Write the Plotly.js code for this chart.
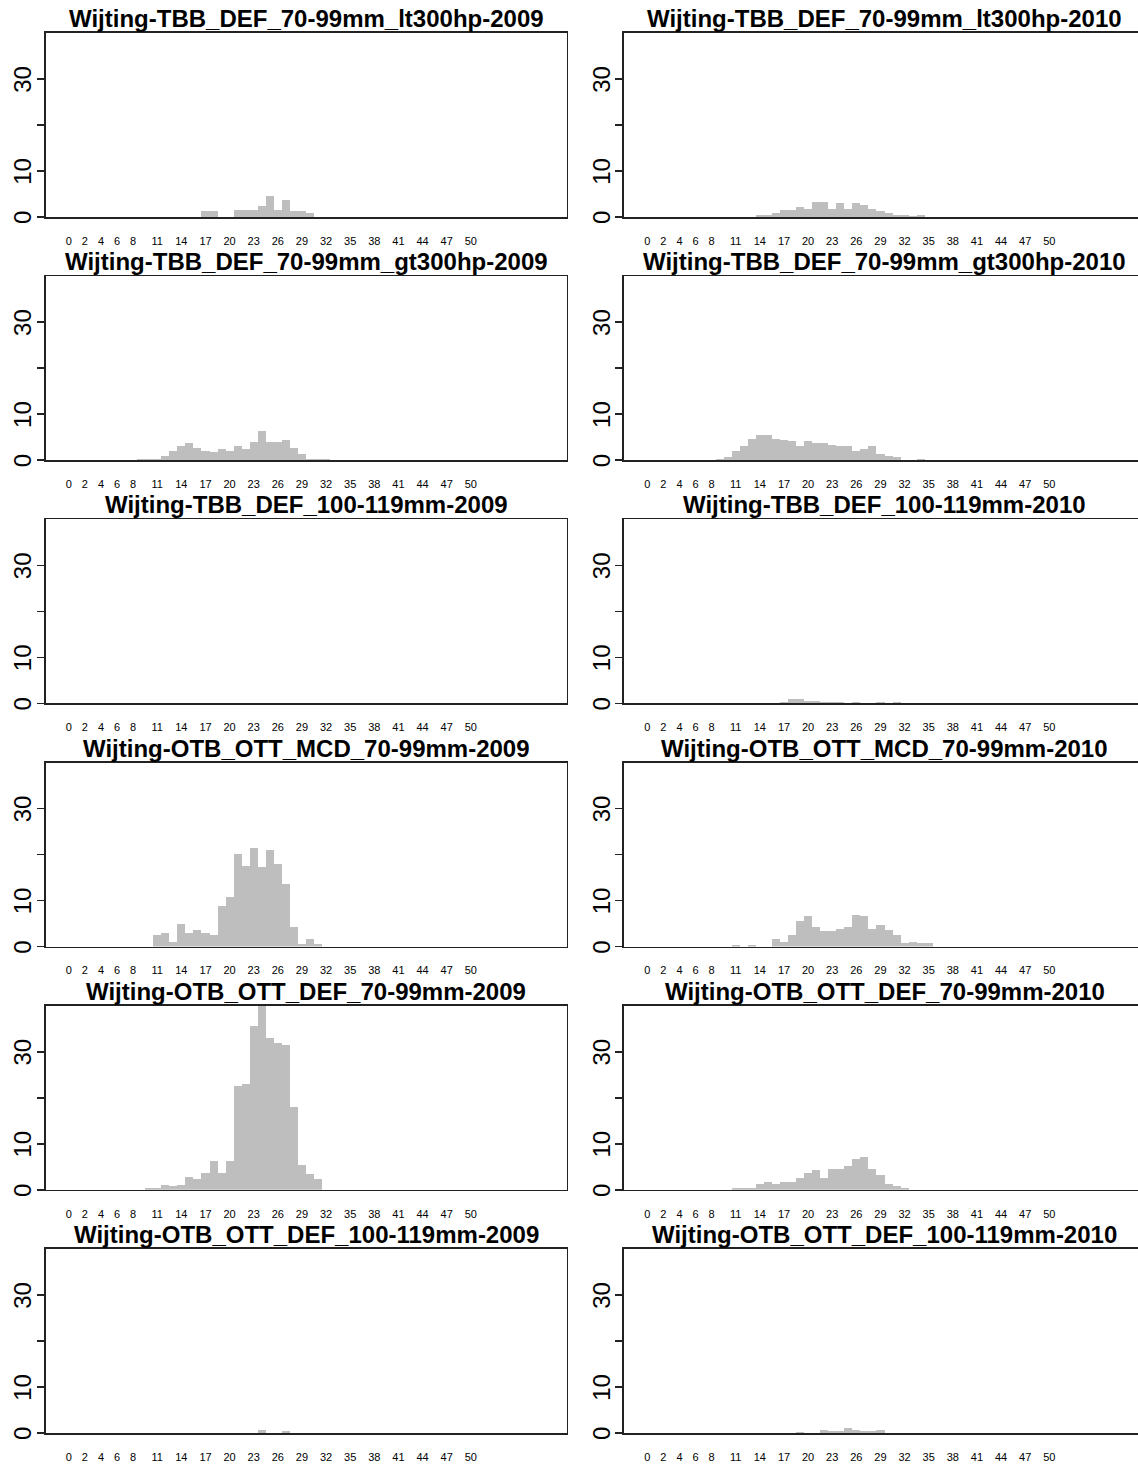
<!DOCTYPE html>
<html>
<head>
<meta charset="utf-8">
<script src="https://cdn.plot.ly/plotly-3.0.1.min.js"></script>
<style>
html, body { margin: 0; padding: 0; background: #fff; overflow: hidden; }
#chart { width: 1138px; height: 1465px; }
</style>
</head>
<body>
<div id="chart"></div>
<script>
// Length classes (cm) on the x axis
const lengthClasses = [0,1,2,3,4,5,6,7,8,9,10,11,12,13,14,15,16,17,18,19,
  20,21,22,23,24,25,26,27,28,29,30,31,32,33,34,35,36,37,38,39,
  40,41,42,43,44,45,46,47,48,49,50,51,52,53,54,55,56,57,58,59];

// Tick labels shown under each panel
const xTickVals = [0,2,4,6,8,11,14,17,20,23,26,29,32,35,38,41,44,47,50];
const xTickText = ["0","2","4","6","8","11","14","17","20","23","26","29","32","35","38","41","44","47","50"];
const yTickVals = [0,10,20,30];
const yTickText = ["0","10","","30"];

// Panel titles (row by row, left then right)
const panelTitles = [
  "Wijting-TBB_DEF_70-99mm_lt300hp-2009",
  "Wijting-TBB_DEF_70-99mm_lt300hp-2010",
  "Wijting-TBB_DEF_70-99mm_gt300hp-2009",
  "Wijting-TBB_DEF_70-99mm_gt300hp-2010",
  "Wijting-TBB_DEF_100-119mm-2009",
  "Wijting-TBB_DEF_100-119mm-2010",
  "Wijting-OTB_OTT_MCD_70-99mm-2009",
  "Wijting-OTB_OTT_MCD_70-99mm-2010",
  "Wijting-OTB_OTT_DEF_70-99mm-2009",
  "Wijting-OTB_OTT_DEF_70-99mm-2010",
  "Wijting-OTB_OTT_DEF_100-119mm-2009",
  "Wijting-OTB_OTT_DEF_100-119mm-2010"
];

// Numbers at length per panel (index = length class)
const tbbLt300_2009 = [0,0,0,0,0,0,0,0,0,0, 0,0,0,0,0,0,0,1.2,1.2,0, 0,1.5,1.5,1.5,2.5,4.5,1.5,3.6,1.2,1.2, 0.9,0,0,0,0,0,0,0,0,0, 0,0,0,0,0,0,0,0,0,0, 0,0,0,0,0,0,0,0,0,0];
const tbbLt300_2010 = [0,0,0,0,0,0,0,0,0,0, 0,0,0,0,0.35,0.35,0.95,1.6,1.6,2.2, 1.8,3.3,3.3,1.7,3.0,1.7,3.0,2.7,1.7,1.3, 0.8,0.45,0.45,0.2,0.35,0,0,0,0,0, 0,0,0,0,0,0,0,0,0,0, 0,0,0,0,0,0,0,0,0,0];
const tbbGt300_2009 = [0,0,0,0,0,0,0,0,0,0.35, 0.35,0.35,1.0,2.0,3.0,3.7,2.7,2.0,1.7,2.4, 2.0,3.0,2.4,4.0,6.3,4.0,4.0,4.3,2.7,1.4, 0.35,0.35,0.35,0,0,0,0,0,0,0, 0,0,0,0,0,0,0,0,0,0, 0,0,0,0,0,0,0,0,0,0];
const tbbGt300_2010 = [0,0,0,0,0,0,0,0,0,0.35, 0.65,2.0,3.0,4.6,5.4,5.4,4.7,4.4,4.1,3.0, 4.1,3.7,3.7,3.4,3.0,3.0,2.0,2.4,3.0,1.4, 1.0,0.65,0,0,0.35,0,0,0,0,0, 0,0,0,0,0,0,0,0,0,0, 0,0,0,0,0,0,0,0,0,0];
const tbb100_2009 = [0,0,0,0,0,0,0,0,0,0, 0,0,0,0,0,0,0,0,0,0, 0,0,0,0,0,0,0,0,0,0, 0,0,0,0,0,0,0,0,0,0, 0,0,0,0,0,0,0,0,0,0, 0,0,0,0,0,0,0,0,0,0];
const tbb100_2010 = [0,0,0,0,0,0,0,0,0,0, 0,0,0,0,0,0,0,0.2,0.9,0.9, 0.5,0.5,0.2,0.2,0.2,0,0.2,0,0,0.2, 0,0.2,0,0,0,0,0,0,0,0, 0,0,0,0,0,0,0,0,0,0, 0,0,0,0,0,0,0,0,0,0];
const ottMcd_2009 = [0,0,0,0,0,0,0,0,0,0, 0,2.6,2.9,0.9,4.9,2.9,3.6,2.9,2.6,8.8, 10.7,20.1,17.6,21.4,17.2,21.1,17.9,13.6,4.2,0.6, 1.6,0.6,0,0,0,0,0,0,0,0, 0,0,0,0,0,0,0,0,0,0, 0,0,0,0,0,0,0,0,0,0];
const ottMcd_2010 = [0,0,0,0,0,0,0,0,0,0, 0,0.3,0,0.3,0,0,1.6,1.1,2.6,5.6, 6.6,4.2,3.3,3.3,3.9,4.2,6.9,6.6,3.9,4.6, 3.6,2.6,0.7,1.0,0.7,0.7,0,0,0,0, 0,0,0,0,0,0,0,0,0,0, 0,0,0,0,0,0,0,0,0,0];
const ottDef_2009 = [0,0,0,0,0,0,0,0,0,0, 0.35,0.35,1.1,0.8,1.1,2.7,2.4,3.7,6.3,3.7, 6.3,22.5,22.9,35.6,41.0,33.0,32.0,31.4,18.0,5.4, 3.4,2.4,0,0,0,0,0,0,0,0, 0,0,0,0,0,0,0,0,0,0, 0,0,0,0,0,0,0,0,0,0];
const ottDef_2010 = [0,0,0,0,0,0,0,0,0,0, 0,0.3,0.3,0.3,1.3,1.6,1.3,1.6,1.6,2.6, 3.6,4.2,2.6,4.5,4.5,5.1,6.8,7.1,4.5,3.2, 1.3,0.9,0.3,0,0,0,0,0,0,0, 0,0,0,0,0,0,0,0,0,0, 0,0,0,0,0,0,0,0,0,0];
const ottDef100_2009 = [0,0,0,0,0,0,0,0,0,0, 0,0,0,0,0,0,0,0,0,0, 0,0,0,0,0.6,0,0,0.35,0,0, 0,0,0,0,0,0,0,0,0,0, 0,0,0,0,0,0,0,0,0,0, 0,0,0,0,0,0,0,0,0,0];
const ottDef100_2010 = [0,0,0,0,0,0,0,0,0,0, 0,0,0,0,0,0,0,0,0,0.3, 0,0,0.6,0.35,0.35,1.0,0.6,0.35,0.35,0.6, 0,0,0,0,0,0,0,0,0,0, 0,0,0,0,0,0,0,0,0,0, 0,0,0,0,0,0,0,0,0,0];

const panelSeries = [tbbLt300_2009, tbbLt300_2010, tbbGt300_2009, tbbGt300_2010,
  tbb100_2009, tbb100_2010, ottMcd_2009, ottMcd_2010,
  ottDef_2009, ottDef_2010, ottDef100_2009, ottDef100_2010];

// ---- geometry (pixels) ----
const W = 1138, H = 1465;
const colLeft = [45.5, 624];
const boxW = 521;
const xMin = -2.9, xMax = 61.9;           // R barplot extension of 4%
const pxPerUnit = boxW / (xMax - xMin);
const rowTop0 = 33, rowPitch = 243.2, boxH = 184;
const lineCol = "#222222";

const traces = [];
const layout = {
  width: W, height: H,
  margin: {l: 0, r: 0, t: 0, b: 0},
  paper_bgcolor: "#ffffff", plot_bgcolor: "#ffffff",
  showlegend: false, bargap: 0,
  font: {family: "Liberation Sans, Arial, sans-serif", color: "#000"},
  annotations: []
};

for (let i = 0; i < 12; i++) {
  const row = Math.floor(i / 2), col = i % 2;
  const n = i + 1;
  const xa = "xaxis" + (n === 1 ? "" : n), ya = "yaxis" + (n === 1 ? "" : n);
  const left = colLeft[col];
  const right = Math.min(left + boxW, W);
  const top = rowTop0 + row * rowPitch, bottom = top + boxH;
  const rangeRight = xMin + (right - left) / pxPerUnit;

  traces.push({
    type: "bar", x: lengthClasses, y: panelSeries[i],
    xaxis: "x" + (n === 1 ? "" : n), yaxis: "y" + (n === 1 ? "" : n),
    marker: {color: "#bebebe", line: {width: 0}}, width: 1,
    hoverinfo: "skip"
  });

  layout[xa] = {
    domain: [left / W, right / W], range: [xMin, rangeRight],
    anchor: "y" + (n === 1 ? "" : n),
    showline: true, mirror: true, linecolor: lineCol, linewidth: 1.6,
    showgrid: false, zeroline: false, ticks: "",
    tickmode: "array", tickvals: xTickVals, ticktext: xTickText,
    tickangle: 0, tickfont: {size: 11, color: "#000", family: "Liberation Sans, Arial"},
    ticklabelstandoff: 13, fixedrange: true
  };
  layout[ya] = {
    domain: [1 - bottom / H, 1 - top / H], range: [0, 40],
    anchor: "x" + (n === 1 ? "" : n),
    showline: true, mirror: col === 0, linecolor: lineCol, linewidth: 1.6,
    showgrid: false, zeroline: false,
    ticks: "outside", ticklen: 7, tickwidth: 1.6, tickcolor: lineCol,
    tickmode: "array", tickvals: yTickVals, ticktext: yTickText,
    tickangle: -90, tickfont: {size: 24, color: "#000", family: "Liberation Sans, Arial"},
    ticklabelstandoff: -4, ticklabelshift: 4, fixedrange: true
  };
  layout.annotations.push({
    text: "<b>" + panelTitles[i] + "</b>",
    xref: "paper", yref: "paper",
    x: (left + boxW / 2) / W, y: 1 - (top - 14.5) / H,
    xanchor: "center", yanchor: "middle", showarrow: false,
    font: {size: 24, color: "#000", family: "Liberation Sans, Arial"}
  });
}

Plotly.newPlot("chart", traces, layout, {staticPlot: true, displayModeBar: false});
</script>
</body>
</html>
